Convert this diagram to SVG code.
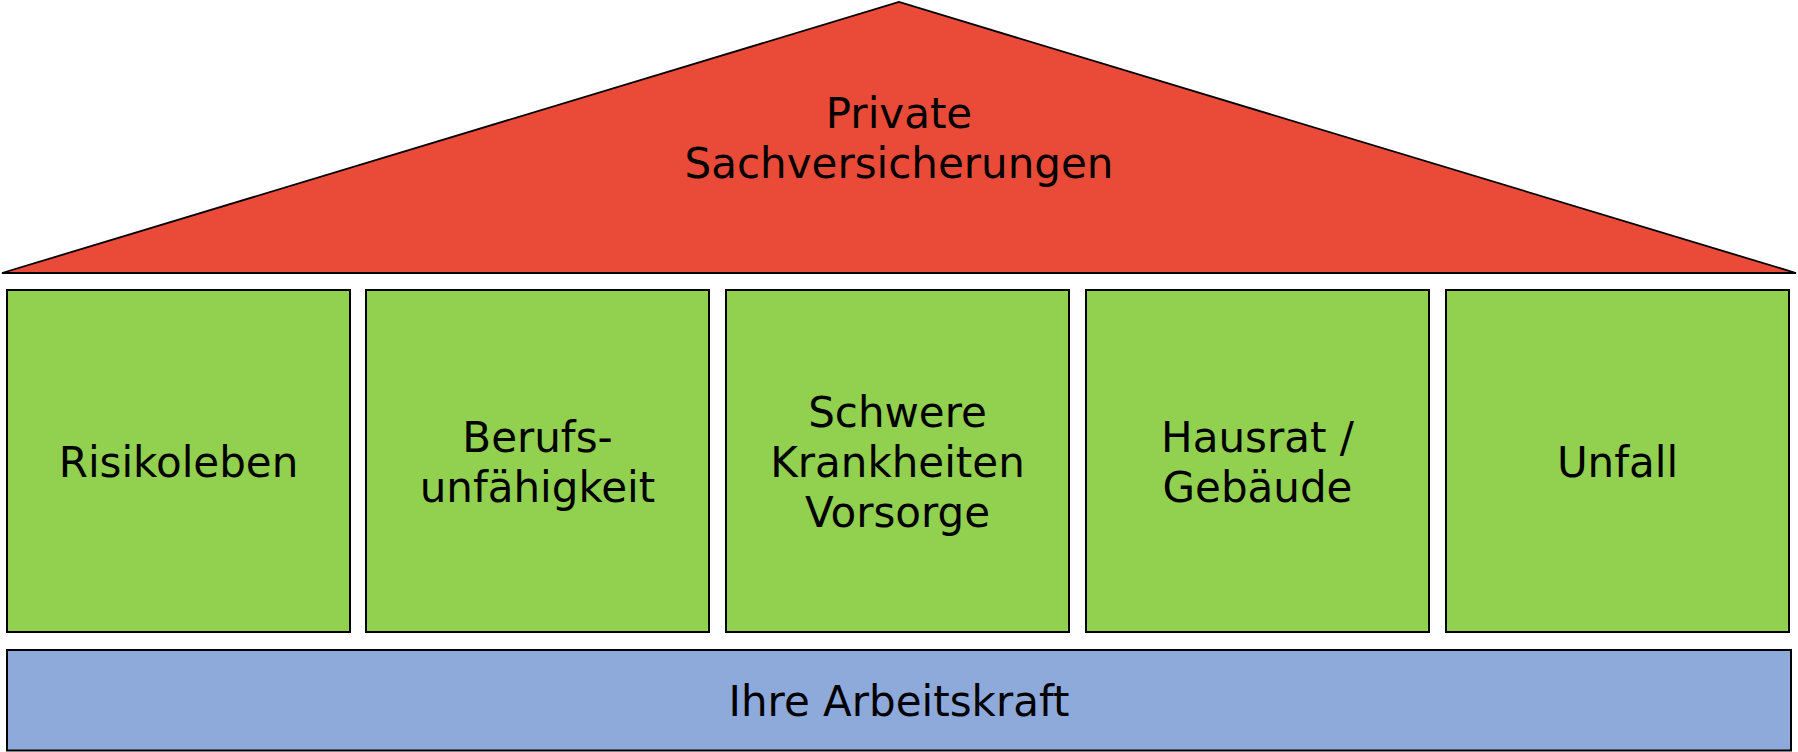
<svg xmlns="http://www.w3.org/2000/svg" width="1798" height="752" viewBox="0 0 1798 752">
<style>
.lbl{font-family:"DejaVu Sans","Verdana",sans-serif;font-size:42px;fill:#000;text-anchor:middle}
.pillar{fill:#92D050;stroke:#000;stroke-width:2}
</style>
<rect width="1798" height="752" fill="#fff"/>
<g id="roof">
<polygon points="2,273 899,2 1796,273" fill="#EA4A38" stroke="#000" stroke-width="1.8" stroke-linejoin="miter"/>
<text class="lbl" x="899" y="128">Private</text>
<text class="lbl" x="899" y="178">Sachversicherungen</text>
</g>
<g id="risikoleben">
<rect class="pillar" x="7" y="290" width="343" height="342"/>
<text class="lbl" x="178.5" y="477">Risikoleben</text>
</g>
<g id="berufsunfaehigkeit">
<rect class="pillar" x="366" y="290" width="343" height="342"/>
<text class="lbl" x="537.5" y="452">Berufs-</text>
<text class="lbl" x="537.5" y="502">unfähigkeit</text>
</g>
<g id="schwere-krankheiten">
<rect class="pillar" x="726" y="290" width="343" height="342"/>
<text class="lbl" x="897.5" y="427">Schwere</text>
<text class="lbl" x="897.5" y="477">Krankheiten</text>
<text class="lbl" x="897.5" y="527">Vorsorge</text>
</g>
<g id="hausrat">
<rect class="pillar" x="1086" y="290" width="343" height="342"/>
<text class="lbl" x="1257.5" y="452">Hausrat /</text>
<text class="lbl" x="1257.5" y="502">Gebäude</text>
</g>
<g id="unfall">
<rect class="pillar" x="1446" y="290" width="343" height="342"/>
<text class="lbl" x="1617.5" y="477">Unfall</text>
</g>
<g id="arbeitskraft">
<rect x="7" y="650" width="1784" height="100.5" fill="#8EAADB" stroke="#000" stroke-width="2"/>
<text class="lbl" x="899" y="716">Ihre Arbeitskraft</text>
</g>
<g id="connectors"></g>
</svg>
